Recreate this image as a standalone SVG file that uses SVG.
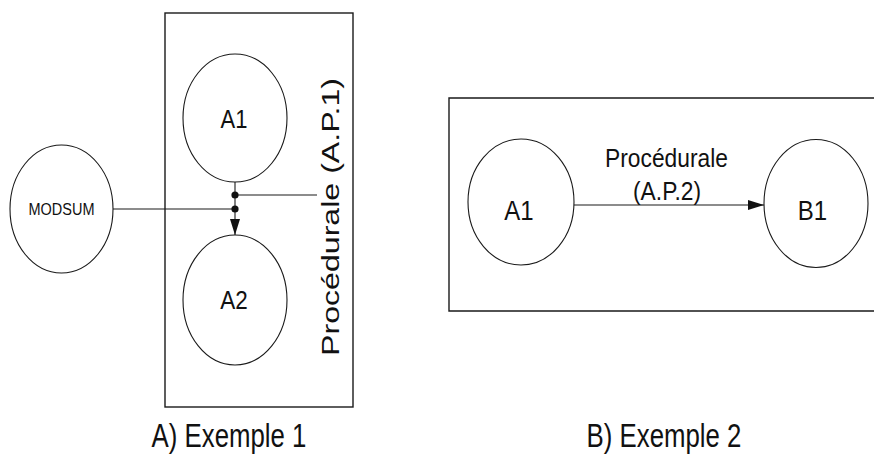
<svg xmlns="http://www.w3.org/2000/svg" width="874" height="454" viewBox="0 0 874 454">
  <defs>
    <style>
      .frame { fill: none; stroke: #1a1a1a; stroke-width: 1.4; }
      .node { fill: #ffffff; stroke: #1a1a1a; stroke-width: 1.1; }
      .link { fill: none; stroke: #1a1a1a; stroke-width: 1.1; }
      .dot { fill: #111111; }
      .lbl { font-family: "Liberation Sans", Arial, sans-serif; fill: #111111; text-anchor: middle; }
    </style>
    <marker id="arrow" viewBox="0 0 16 10" refX="16" refY="5" markerWidth="16" markerHeight="10" markerUnits="userSpaceOnUse" orient="auto">
      <path d="M0,0 L16,5 L0,10 Z" fill="#111111"/>
    </marker>
  </defs>

  <rect fill="#ffffff" x="0" y="0" width="874" height="454"/>

  <!-- Example A -->
  <g id="frameA">
    <rect class="frame" x="165" y="13" width="188" height="394"/>
    <text class="lbl" font-size="23" textLength="278" lengthAdjust="spacingAndGlyphs" transform="translate(338.5,217) rotate(-90)">Procédurale (A.P.1)</text>
  </g>

  <g id="connectors">
    <line class="link" x1="235" y1="182" x2="235" y2="235" marker-end="url(#arrow)"/>
    <line class="link" x1="235" y1="195" x2="317" y2="195"/>
    <line class="link" x1="113" y1="209" x2="235" y2="209"/>
    <circle class="dot" cx="235" cy="195" r="3.6"/>
    <circle class="dot" cx="235" cy="209" r="3.6"/>
    <line class="link" x1="574" y1="205" x2="764" y2="205" marker-end="url(#arrow)"/>
  </g>

  <g id="modsum">
    <ellipse class="node" cx="61.5" cy="209" rx="51.5" ry="64"/>
    <text class="lbl" font-size="14.5" transform="translate(61.5,215) scale(1,1.2)">MODSUM</text>
  </g>

  <g id="a1-left">
    <ellipse class="node" cx="235" cy="118" rx="52" ry="64"/>
    <text class="lbl" font-size="22" transform="translate(234,128) scale(1,1.15)">A1</text>
  </g>

  <g id="a2-left">
    <ellipse class="node" cx="235" cy="300" rx="52" ry="65"/>
    <text class="lbl" font-size="22.5" transform="translate(234,309) scale(1,1.15)">A2</text>
  </g>

  <text class="lbl" font-size="25.8" transform="translate(229,447) scale(1,1.3)">A) Exemple 1</text>

  <!-- Example B -->
  <g id="frameB">
    <path class="frame" d="M880,98 H449 V311 H880"/>
    <text class="lbl" font-size="22.8" transform="translate(666.5,166.5) scale(1,1.15)">Procédurale</text>
    <text class="lbl" font-size="22.8" transform="translate(667,200) scale(1,1.15)">(A.P.2)</text>
  </g>

  <g id="a1-right">
    <ellipse class="node" cx="521" cy="202" rx="53" ry="63"/>
    <text class="lbl" font-size="24" transform="translate(519,220) scale(1,1.15)">A1</text>
  </g>

  <g id="b1">
    <ellipse class="node" cx="816" cy="203.5" rx="52" ry="64"/>
    <text class="lbl" font-size="24" transform="translate(812.5,220) scale(1,1.15)">B1</text>
  </g>

  <text class="lbl" font-size="25.8" transform="translate(664,447) scale(1,1.3)">B) Exemple 2</text>
</svg>
